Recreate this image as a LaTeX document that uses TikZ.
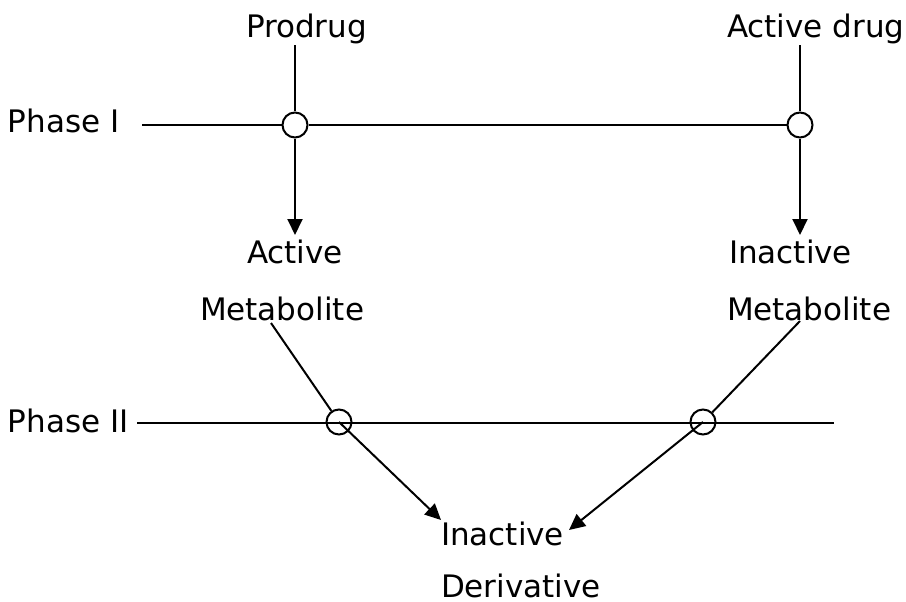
\documentclass[tikz,border=0pt]{standalone}
\usepackage{fontspec}
\setmainfont{DejaVu Sans}
\usetikzlibrary{arrows.meta}

\tikzset{
  txt/.style={anchor=base west, inner sep=0pt, font=\fontsize{31}{37}\selectfont},
  junction/.style={draw, circle, fill=white, minimum size=25pt, inner sep=0pt},
  ring/.style={draw, circle, minimum size=25pt, inner sep=0pt},
  flow/.style={-{Triangle[length=16pt,width=15pt]}},
}

\begin{document}
\begin{tikzpicture}[x=1pt, y=-1pt, line width=2pt]
  \useasboundingbox (0,0) rectangle (906,602);

  % 1. Place the texts
  \node[txt] (prodrug) at (245,38) {Prodrug};
  \node[txt] (activedrug) at (726,38) {Active drug};
  \node[txt] (phaseI) at (7,132) {Phase I};
  \node[txt] (phaseII) at (7,432) {Phase II};
  \node[txt] (actv) at (246,263) {Active};
  \node[txt] (metaL) at (199,320) {Metabolite};
  \node[txt] (inactR) at (728,263) {Inactive};
  \node[txt] (metaR) at (726,320) {Metabolite};
  \node[txt] (inactB) at (440,545) {Inactive};
  \node[txt] (deriv) at (440,597) {Derivative};

  % 2. The junctions on the two phase lines
  \node[junction] (jPro) at (295,125) {};
  \node[junction] (jAct) at (800,125) {};
  \node[ring] (jMetA) at (339,422) {};
  \node[ring] (jMetI) at (703,422) {};

  % 3. Free ends of the connectors
  \coordinate (pI) at (142,125);
  \coordinate (pIIa) at (137,423);
  \coordinate (pIIb) at (834,423);
  \coordinate (tipA) at (295,235);
  \coordinate (tipI) at (800,235);
  \coordinate (fromA) at (271,323);
  \coordinate (fromI) at (800,321);
  \coordinate (tipDa) at (441,520);
  \coordinate (tipDb) at (569,530);

  % 4. Phase I
  \draw (prodrug.south -| jPro) -- (jPro);
  \draw (activedrug.south -| jAct) -- (jAct);
  \draw (pI) -- (jPro);
  \draw (jPro) -- (jAct);
  \draw[flow] (jPro) -- (tipA);
  \draw[flow] (jAct) -- (tipI);

  % 5. Phase II
  \draw (pIIa) -- (pIIb);
  \draw (fromA) -- (jMetA);
  \draw (fromI) -- (jMetI);
  \draw[flow] (jMetA.center) -- (tipDa);
  \draw[flow] (jMetI.center) -- (tipDb);
\end{tikzpicture}
\end{document}
